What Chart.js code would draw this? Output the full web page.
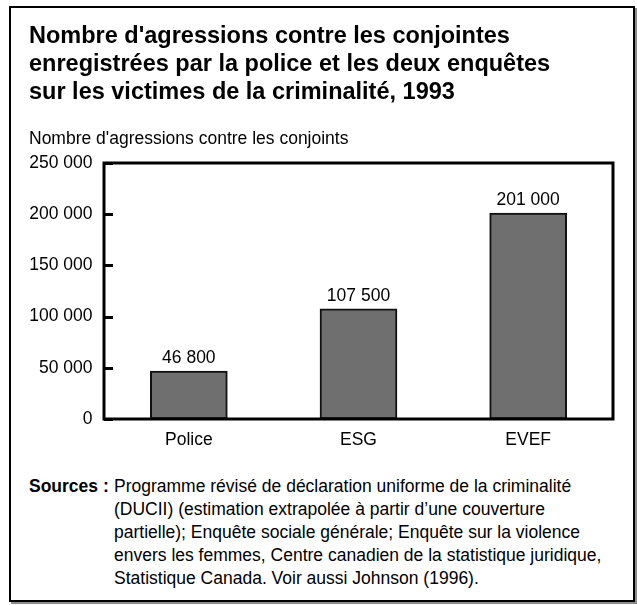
<!DOCTYPE html>
<html lang="fr">
<head>
<meta charset="utf-8">
<title>Nombre d'agressions contre les conjointes, 1993</title>
<script src="https://cdn.jsdelivr.net/npm/chart.js@4.4.1/dist/chart.umd.min.js"></script>
<style>
  html, body { margin: 0; padding: 0; background: #fff; width: 637px; height: 605px; overflow: hidden; }
  #box { position: absolute; left: 9px; top: 6px; width: 626px; height: 596px; box-sizing: border-box;
         border: 2px solid #000; background: #fff; box-shadow: 2px 2px 0 #8c8c8c; }
  #chart { position: absolute; left: 0; top: 0; }
  #src { position: absolute; left: 29px; top: 475px; display: flex; white-space: nowrap;
         font: 17.5px/23px "Liberation Sans", Arial, sans-serif; color: #000; }
  #src .lab { width: 85px; font-weight: bold; }
</style>
</head>
<body>
<div id="box"></div>
<canvas id="chart" width="637" height="462"></canvas>
<div id="src">
  <div class="lab">Sources&nbsp;:</div>
  <div>Programme révisé de déclaration uniforme de la criminalité<br>(DUCII) (estimation extrapolée à partir d’une couverture<br>partielle); Enquête sociale générale; Enquête sur la violence<br>envers les femmes, Centre canadien de la statistique juridique,<br>Statistique Canada. Voir aussi Johnson (1996).</div>
</div>
<script>
// ---- data ----
const categories = ['Police', 'ESG', 'EVEF'];
const values = [46800, 107500, 201000];
const yTicks = [0, 50000, 100000, 150000, 200000, 250000];
const titleLines = [
  "Nombre d'agressions contre les conjointes",
  "enregistrées par la police et les deux enquêtes",
  "sur les victimes de la criminalité, 1993"
];
const axisTitle = "Nombre d'agressions contre les conjoints";

const FONT = '"Liberation Sans", Arial, sans-serif';
function fmt(v) { return String(v).replace(/\B(?=(\d{3})+(?!\d))/g, ' '); }

Chart.defaults.font.family = FONT;
Chart.defaults.color = '#000';

const valueLabels = {
  id: 'valueLabels',
  afterDatasetsDraw(chart) {
    const ctx = chart.ctx;
    const meta = chart.getDatasetMeta(0);
    ctx.save();
    ctx.font = '17.5px ' + FONT;
    ctx.fillStyle = '#000';
    ctx.textAlign = 'center';
    ctx.textBaseline = 'middle';
    meta.data.forEach((bar, i) => {
      ctx.fillText(fmt(values[i]), bar.x, bar.y - 13);
    });
    ctx.restore();
  }
};

const frame = {
  id: 'frame',
  afterDatasetsDraw(chart) {
    const { left, top, right, bottom } = chart.chartArea;
    const ctx = chart.ctx;
    const y = chart.scales.y;
    ctx.save();
    ctx.strokeStyle = '#000';
    ctx.lineWidth = 3;
    ctx.strokeRect(left, top, right - left, bottom - top);
    // inward tick marks on the value axis
    ctx.beginPath();
    y.ticks.forEach(t => {
      const py = Math.round(y.getPixelForValue(t.value)) + 0.5;
      ctx.moveTo(left, py);
      ctx.lineTo(left + 9, py);
    });
    ctx.stroke();
    ctx.restore();
  }
};

new Chart(document.getElementById('chart'), {
  type: 'bar',
  data: {
    labels: categories,
    datasets: [{
      data: values,
      backgroundColor: '#6f6f6f',
      borderColor: '#111',
      borderWidth: 2,
      borderSkipped: false,
      barThickness: 77
    }]
  },
  options: {
    responsive: false,
    animation: false,
    events: [],
    layout: { padding: { left: 29, right: 24, top: 0, bottom: 0 } },
    plugins: {
      legend: { display: false },
      tooltip: { enabled: false },
      title: {
        display: true,
        text: titleLines,
        align: 'start',
        color: '#000',
        font: { size: 23.5, weight: 'bold', lineHeight: '28px' },
        padding: { top: 22.5, bottom: 10.5 }
      },
      subtitle: {
        display: true,
        text: axisTitle,
        align: 'start',
        color: '#000',
        font: { size: 17.5, weight: 'normal', lineHeight: 1.2 },
        padding: { top: 11.5, bottom: 13.5 }
      }
    },
    scales: {
      x: {
        grid: { display: false, drawTicks: false },
        border: { display: false },
        ticks: { font: { size: 17.5 }, padding: 11, color: '#000' }
      },
      y: {
        min: 0,
        max: 250000,
        afterBuildTicks(scale) { scale.ticks = yTicks.map(v => ({ value: v })); },
        afterFit(scale) { scale.width = 75; },
        grid: { display: false, drawTicks: false },
        border: { display: false },
        ticks: { font: { size: 17.5 }, padding: 11.5, color: '#000', callback: (v) => fmt(v) }
      }
    }
  },
  plugins: [valueLabels, frame]
});
</script>
</body>
</html>
